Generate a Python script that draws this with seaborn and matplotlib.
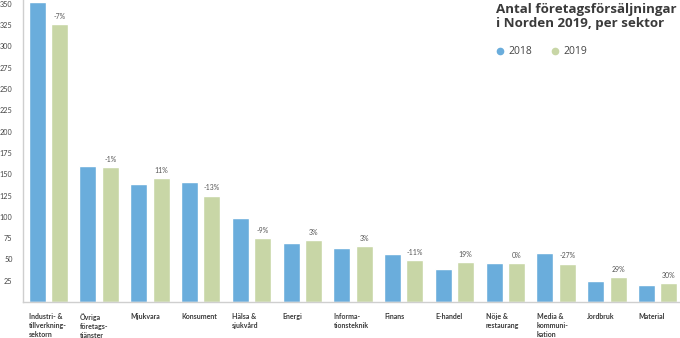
import matplotlib
matplotlib.use("Agg")
import matplotlib.pyplot as plt
import matplotlib.transforms as mtransforms
from matplotlib.lines import Line2D
import seaborn as sns
import pandas as pd

sectors = ["Industri- &\ntillverkning-\nsektorn", "Övriga\nföretags-\ntjänster", "Mjukvara",
           "Konsument", "Hälsa &\nsjukvård", "Energi", "Informa-\ntionsteknik", "Finans",
           "E-handel", "Nöje &\nrestaurang", "Media &\nkommuni-\nkation", "Jordbruk", "Material"]
values_2018 = [352, 160, 138, 141, 99, 69, 63, 56, 39, 46, 57, 25, 20]
values_2019 = [326, 158, 145, 125, 75, 73, 66, 49, 47, 46, 45, 29, 22]
change_labels = ["-7%", "-1%", "11%", "-13%", "-9%", "3%", "3%", "-11%", "19%", "0%", "-27%", "29%", "30%"]
years = ["2018", "2019"]
yticks = list(range(25, 351, 25))

BLUE = "#6aaddc"
GREEN = "#c8d6a6"

df = pd.DataFrame({
    "sector": sectors * 2,
    "count": values_2018 + values_2019,
    "year": [years[0]] * len(sectors) + [years[1]] * len(sectors),
})

sns.set_theme(style="white")
plt.rcParams["font.family"] = ["Lato", "DejaVu Sans"]

fig = plt.figure(figsize=(6.8, 3.38), dpi=100)
ax = fig.add_axes([23 / 680, 36 / 338, 657 / 680, 302 / 338])

sns.barplot(data=df, x="sector", y="count", hue="year", palette=[BLUE, GREEN],
            width=0.88, gap=0.24, saturation=1, legend=False, ax=ax)

ax.set_xlim(-0.5, 12.44)
ax.set_ylim(0, 354.5)
ax.set_yticks(yticks)
ax.set_yticklabels([str(v) for v in yticks])
ax.set_xlabel("")
ax.set_ylabel("")

for s in ["top", "right"]:
    ax.spines[s].set_visible(False)
for s in ["left", "bottom"]:
    ax.spines[s].set_color("#cfcfcf")
    ax.spines[s].set_linewidth(1.0)

ax.tick_params(axis="y", length=0, pad=7.5, labelsize=5.2, labelcolor="#444444")
ax.tick_params(axis="x", length=0, pad=8)

ax.set_xticks(range(len(sectors)))
ax.set_xticklabels(sectors, ha="left", va="top", fontsize=5, fontweight="bold",
                   color="#3a3a3a", linespacing=1.35)
offset = mtransforms.ScaledTranslation(-0.196, 0, fig.dpi_scale_trans)
for lbl in ax.get_xticklabels():
    lbl.set_transform(lbl.get_transform() + offset)

ax.bar_label(ax.containers[1], labels=change_labels, padding=3, fontsize=5, color="#555555")

fig.text(496 / 680, 1 - 2.5 / 338, "Antal företagsförsäljningar\ni Norden 2019, per sektor",
         ha="left", va="top", fontsize=9.6, fontweight="bold", color="#3a3a3a", linespacing=1.15,
         family=["Open Sans", "DejaVu Sans"])

handles = [Line2D([], [], marker="o", linestyle="", markersize=4.5, color=c) for c in (BLUE, GREEN)]
fig.legend(handles, years, loc="upper left", bbox_to_anchor=(490 / 680, 1 - 42 / 338), ncol=2,
           frameon=False, handletextpad=0.2, columnspacing=1.6,
           labelcolor="#444444", borderaxespad=0, handlelength=1.2,
           prop={"family": ["Open Sans", "DejaVu Sans"], "size": 7.5})

fig.savefig("out.png", dpi=100)
